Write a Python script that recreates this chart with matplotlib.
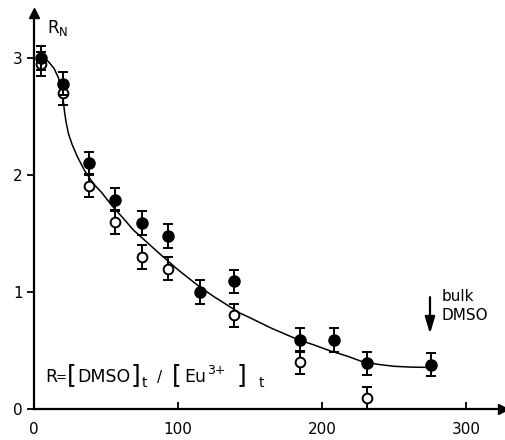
import matplotlib.pyplot as plt

# --- dane ---
# punkty pełne
x_full = [5, 20, 38, 56, 75, 93, 115, 139, 185, 208, 231, 276]
y_full = [3.00, 2.78, 2.10, 1.79, 1.59, 1.48, 1.00, 1.09, 0.59, 0.59, 0.39, 0.38]
# punkty puste
x_open = [5, 20, 38, 56, 75, 93, 139, 185, 231]
y_open = [2.95, 2.70, 1.91, 1.60, 1.30, 1.20, 0.80, 0.40, 0.09]
err = 0.1

# krzywa dopasowania
x_fit = [5, 10, 14, 17, 19, 20.3, 21.2, 22.3, 24, 26.5, 30, 35, 41, 47, 54, 62,
         69, 78, 87, 100, 115, 125, 134, 143, 150, 165, 182, 195, 205, 218, 229,
         240, 250, 262, 272]
y_fit = [3.01, 2.97, 2.91, 2.83, 2.74, 2.64, 2.54, 2.45, 2.35, 2.26, 2.16, 2.04,
         1.93, 1.85, 1.74, 1.63, 1.53, 1.43, 1.33, 1.19, 1.045, 0.96, 0.89, 0.82,
         0.78, 0.69, 0.60, 0.545, 0.50, 0.45, 0.40, 0.38, 0.365, 0.358, 0.356]

xticks = [0, 100, 200, 300]
yticks = [0, 1, 2, 3]

# wzór R = [DMSO]t / [Eu3+]t składany z kawałków: (tekst, przesunięcie x, przesunięcie y, rozmiar)
formula = [
    ("R", 0, 0, 12.5), ("=", 11, 1, 9.5),
    ("[", 22, 0, 18), ("DMSO", 32.5, 0, 12.5), ("]", 86, 0, 18), ("t", 97, -5, 10),
    ("/", 112, 0, 11),
    ("[", 127, 0, 18), ("Eu", 139, 0, 12.5), ("3+", 162, 8, 9), ("]", 192, 0, 18),
    ("t", 214, -5, 10),
]

fig = plt.figure(figsize=(5.05, 4.40), dpi=100)
ax = fig.add_axes([34 / 505, 31 / 440, 469 / 505, 396 / 440])
ax.set_xlim(0, 325.7)
ax.set_ylim(0, 3.385)

for side in ["top", "right"]:
    ax.spines[side].set_visible(False)
for side in ["left", "bottom"]:
    ax.spines[side].set_linewidth(1.6)

# strzałki osi
ax.plot(1, 0, ">k", ms=7, transform=ax.get_yaxis_transform(), clip_on=False)
ax.plot(0, 1, "^k", ms=7, transform=ax.get_xaxis_transform(), clip_on=False)

ax.plot(x_fit, y_fit, color="black", lw=1.1, zorder=2)

ax.errorbar(x_open, y_open, yerr=err, fmt="o", mfc="white", mec="black", mew=1.4,
            ms=7, ecolor="black", elinewidth=1.4, capsize=3.5, capthick=1.4, zorder=3)
ax.errorbar(x_full, y_full, yerr=err, fmt="o", mfc="black", mec="black",
            ms=8, ecolor="black", elinewidth=1.4, capsize=3.5, capthick=1.4, zorder=4)

ax.set_xticks(xticks)
ax.set_yticks(yticks)
ax.tick_params(axis="x", direction="in", length=5, width=1.3, pad=9, labelsize=11)
ax.tick_params(axis="y", direction="out", length=5, width=1.3, pad=3, labelsize=11)

ax.text(9, 3.26, r"R$_\mathrm{N}$", fontsize=12, va="center", ha="left")

for txt, dx, dy, fs in formula:
    ax.annotate(txt, xy=(7.6, 0.233), xytext=(dx, dy), textcoords="offset pixels",
                fontsize=fs, ha="left", va="baseline")

ax.text(283, 0.88, "bulk\nDMSO", fontsize=11, va="center", ha="left", linespacing=1.3)
ax.annotate("", xy=(275, 0.62), xytext=(275, 0.98),
            arrowprops=dict(arrowstyle="-|>,head_width=0.3,head_length=1.0",
                            color="black", lw=1.6))

fig.savefig("out.png", dpi=100)
